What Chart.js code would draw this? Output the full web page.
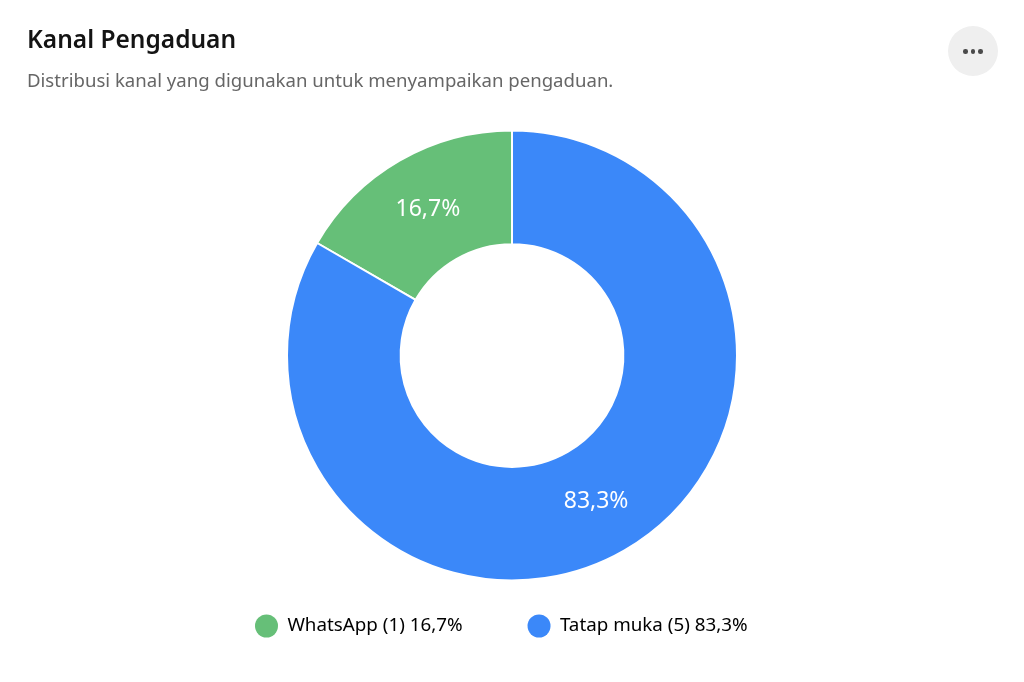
<!DOCTYPE html>
<html>
<head>
<meta charset="utf-8">
<script src="https://cdn.jsdelivr.net/npm/chart.js@4.4.1/dist/chart.umd.min.js"></script>
<style>
  html, body { margin: 0; padding: 0; background: #ffffff; }
  body { width: 1024px; height: 682px; position: relative; overflow: hidden; font-family: "Noto Sans", "Open Sans", sans-serif; }
  #title { position: absolute; left: 27px; top: 22px; font-size: 24.5px; font-weight: 600; color: #141414; line-height: 34px; white-space: nowrap; }
  #subtitle { position: absolute; left: 27px; top: 67px; font-size: 18.6px; color: #666666; line-height: 26px; white-space: nowrap; }
  #menu { position: absolute; left: 948px; top: 26px; width: 50px; height: 50px; border-radius: 50%; background: #efefef; }
  #menu span { position: absolute; top: 23px; width: 4.5px; height: 4.5px; border-radius: 50%; background: #4a4a4a; }
  #wrap { position: absolute; left: 0; top: 0; width: 1024px; height: 682px; }
  canvas { display: block; }
</style>
</head>
<body>
<div id="wrap"><canvas id="c" width="1024" height="682" style="width:1024px;height:682px"></canvas></div>
<div id="title">Kanal Pengaduan</div>
<div id="subtitle">Distribusi kanal yang digunakan untuk menyampaikan pengaduan.</div>
<div id="menu"><span style="left:15px"></span><span style="left:22.5px"></span><span style="left:30px"></span></div>
<script>
const categories = ["WhatsApp", "Tatap muka"];
const counts = [1, 5];
const percentLabels = ["16,7%", "83,3%"];
const colors = ["#66bf78", "#3b88f9"];

const sliceLabels = {
  id: 'sliceLabels',
  afterDatasetsDraw(chart) {
    const ctx = chart.ctx;
    const meta = chart.getDatasetMeta(0);
    ctx.save();
    ctx.font = '23px "Noto Sans", "Open Sans", sans-serif';
    ctx.fillStyle = '#ffffff';
    ctx.textAlign = 'center';
    ctx.textBaseline = 'middle';
    meta.data.forEach((arc, i) => {
      const p = arc.tooltipPosition();
      ctx.fillText(percentLabels[i], p.x, p.y);
    });
    ctx.restore();
  }
};

new Chart(document.getElementById('c'), {
  type: 'doughnut',
  data: {
    labels: categories,
    datasets: [{
      data: counts,
      backgroundColor: colors,
      borderColor: '#ffffff',
      borderWidth: 2,
      hoverOffset: 0,
      radius: 225,
      cutout: '49.5%'
    }]
  },
  options: {
    responsive: false,
    animation: false,
    devicePixelRatio: 1,
    rotation: -60,
    layout: { padding: { top: 161.5, bottom: 34.5, left: 190, right: 190 } },
    plugins: {
      tooltip: { enabled: false },
      legend: {
        position: 'bottom',
        align: 'start',
        labels: {
          boxWidth: 23,
          boxHeight: 23,
          useBorderRadius: true,
          borderRadius: 11.5,
          padding: 65,
          color: '#1c1c1c',
          font: { family: '"Noto Sans", "Open Sans", sans-serif', size: 18.8 },
          generateLabels(chart) {
            return categories.map((c, i) => ({
              text: c + ' (' + counts[i] + ') ' + percentLabels[i],
              fillStyle: colors[i],
              strokeStyle: colors[i],
              lineWidth: 0,
              borderRadius: 11.5,
              hidden: false,
              index: i
            }));
          }
        }
      }
    }
  },
  plugins: [sliceLabels]
});
</script>
</body>
</html>
